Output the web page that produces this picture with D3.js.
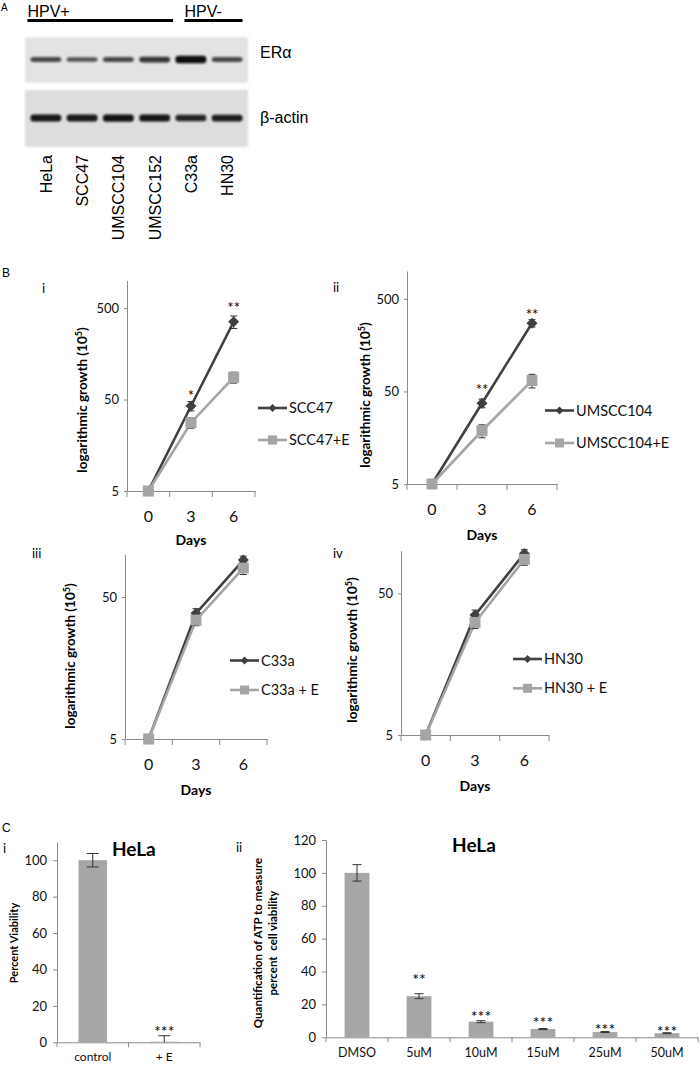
<!DOCTYPE html>
<html><head><meta charset="utf-8">
<script src="https://cdnjs.cloudflare.com/ajax/libs/d3/7.8.5/d3.min.js"></script>
<style>body{margin:0;background:#fff}svg{display:block}</style>
</head><body>
<script>
// ---------- DATA ----------
const lanes = ["HeLa","SCC47","UMSCC104","UMSCC152","C33a","HN30"];
const groups = [{label:"HPV+", from:"HeLa", to:"UMSCC152"},{label:"HPV-", from:"C33a", to:"HN30"}];
const eraBand = [0.5, 0.4, 0.5, 0.65, 1.0, 0.5];
const actinBand = [0.9, 0.88, 0.95, 0.92, 0.8, 0.85];

const days = ["0","3","6"];
const scc47 = [5, 42.5, 354], scc47Err = [0.3, 5, 55];
const scc47E = [5, 27.9, 87.5], scc47EErr = [0.3, 3.6, 12];
const starsI = ["", "*", "**"], starLevelI = [null, 59, 540];

const umscc104 = [5, 37.3, 273], umscc104Err = [0.3, 4, 25];
const umscc104E = [5, 18.8, 65.5], umscc104EErr = [0.3, 3, 11];
const starsII = ["", "**", "**"], starLevelII = [null, 56, 361];

const c33a = [5, 38.4, 91], c33aErr = [0.3, 3, 6];
const c33aE = [5, 34.4, 80], c33aEErr = [0.3, 3, 8];

const hn30 = [5, 35.1, 95.7], hn30Err = [0.3, 3, 6];
const hn30E = [5, 31.2, 86.9], hn30EErr = [0.3, 3, 8];

const viabCats = ["control", "+ E"];
const viabVals = [100, 0.3], viabErr = [3.7, 3.3];
const viabStars = ["", "***"], viabStarLevel = [null, 7.9];

const doseCats = ["DMSO","5uM","10uM","15uM","25uM","50uM"];
const doseVals = [100, 25, 9.5, 5, 3.2, 2.5];
const doseErr = [5, 1.5, 0.6, 0.3, 0.3, 0.3];
const doseStars = ["", "**", "***", "***", "***", "***"];
const doseStarLevel = [null, 37.3, 14.6, 10.9, 6.9, 5.5];

// ---------- STYLE ----------
const ARIAL = "'Liberation Sans', Arial, sans-serif";
const CAL = "Lato, 'Open Sans', sans-serif";
const dark = "#404040", light = "#a5a5a5", axisCol = "#8a8a8a", errCol = "#333";

const svg = d3.select("body").append("svg").attr("width",700).attr("height",1065);
svg.append("rect").attr("width",700).attr("height",1065).attr("fill","#fff");
const defs = svg.append("defs");
defs.append("filter").attr("id","blur").attr("x","-30%").attr("y","-100%").attr("width","160%").attr("height","300%")
  .append("feGaussianBlur").attr("stdDeviation",1.1);
defs.append("filter").attr("id","soft").attr("x","-5%").attr("y","-5%").attr("width","110%").attr("height","110%")
  .append("feGaussianBlur").attr("stdDeviation",0.8);

function txt(g, x, y, s, o = {}) {
  return g.append("text").attr("x", x).attr("y", y).text(s)
    .attr("font-family", o.family || CAL).attr("font-size", o.size || 13)
    .attr("font-weight", o.weight || "normal").attr("text-anchor", o.anchor || "start")
    .attr("fill", o.fill || "#000");
}

// ---------- PANEL A ----------
const A = svg.append("g");
txt(A, 1, 11, "A", {family: ARIAL, size: 10});
const lx = d3.scaleBand().domain(lanes).range([25, 248]).paddingInner(0.15).paddingOuter(0.15);
groups.forEach((gr, gi) => {
  const xs = gi === 0 ? lx(gr.from) - 3 : lx(gr.from) + 9;
  const xe = gi === 0 ? lx(gr.to) + lx.bandwidth() + 3 : lx(gr.to) + lx.bandwidth();
  txt(A, xs, 17, gr.label, {family: ARIAL, size: 16});
  A.append("line").attr("x1", xs).attr("x2", xe).attr("y1", 20.5).attr("y2", 20.5)
    .attr("stroke", "#000").attr("stroke-width", 3);
});
function blot(y0, y1, vals, cy, fill, label, labelY) {
  A.append("rect").attr("x", 25).attr("y", y0).attr("width", 223).attr("height", y1 - y0)
    .attr("fill", fill).attr("filter", "url(#soft)");
  A.selectAll(null).data(vals).join("rect")
    .attr("x", (d, i) => lx(lanes[i]))
    .attr("width", lx.bandwidth())
    .attr("y", d => cy - (2.5 + 5 * d) / 2)
    .attr("height", d => 2.5 + 5 * d)
    .attr("rx", 3)
    .attr("fill", "#0d0d0d").attr("opacity", d => 0.45 + 0.55 * d)
    .attr("filter", "url(#blur)");
  txt(A, 260, labelY, label, {family: ARIAL, size: 16});
}
blot(37, 83, eraBand, 59.5, "#e3e3e3", "ERα", 58);
blot(90, 147, actinBand, 118, "#dddddd", "β-actin", 123);
lanes.forEach(l => {
  A.append("text").attr("transform", `translate(${lx(l) + lx.bandwidth() / 2 + 6},155) rotate(-90)`)
    .attr("text-anchor", "end").attr("font-family", ARIAL).attr("font-size", 16).text(l);
});

// ---------- PANEL B ----------
const B = svg.append("g");
txt(B, 2, 277, "B", {family: ARIAL, size: 12});
txt(B, 42, 293, "i", {size: 13});
txt(B, 333, 292, "ii", {size: 13});
txt(B, 32, 558, "iii", {size: 13});
txt(B, 333, 558, "iv", {size: 13});

function diamond(r) { return `M0,${-r}L${r},0L0,${r}L${-r},0Z`; }

function lineChart(c) {
  const g = svg.append("g");
  const x = d3.scaleBand().domain(days).range([c.x0, c.x1]);
  const y = d3.scaleLog().domain(c.domain).range([c.yb, c.yt]);
  const ya = g.append("g").attr("transform", `translate(${c.x0},0)`)
    .call(d3.axisLeft(y).tickValues(c.ticks).tickFormat(d3.format("d")).tickSize(3).tickPadding(5).tickSizeOuter(0));
  ya.select(".domain").attr("stroke", axisCol);
  ya.selectAll(".tick line").attr("stroke", axisCol);
  ya.selectAll(".tick text").attr("font-family", CAL).attr("font-size", 13).attr("fill", "#111");
  const xa = g.append("g").attr("transform", `translate(0,${c.yb})`)
    .call(d3.axisBottom(x).tickSize(0).tickPadding(19.5).tickSizeOuter(0));
  xa.select(".domain").attr("stroke", axisCol);
  xa.selectAll(".tick text").attr("font-family", CAL).attr("font-size", 16).attr("fill", "#111");
  g.selectAll(null).data(d3.range(days.length + 1)).join("line")
    .attr("x1", i => c.x0 + i * x.step()).attr("x2", i => c.x0 + i * x.step())
    .attr("y1", c.yb).attr("y2", c.yb + 6).attr("stroke", axisCol);
  const cx = d => x(d) + x.bandwidth() / 2;

  function series(vals, errs, col, kind) {
    const pts = vals.map((v, i) => [cx(days[i]), y(v)]);
    g.append("path").attr("d", d3.line()(pts)).attr("fill", "none").attr("stroke", col).attr("stroke-width", 2.6);
    vals.forEach((v, i) => {
      if (!errs[i]) return;
      const lo = y(Math.max(v - errs[i], c.domain[0])), hi = y(v + errs[i]), X = cx(days[i]);
      g.append("line").attr("x1", X).attr("x2", X).attr("y1", lo).attr("y2", hi).attr("stroke", errCol);
      [lo, hi].forEach(yy => g.append("line").attr("x1", X - 3.5).attr("x2", X + 3.5).attr("y1", yy).attr("y2", yy).attr("stroke", errCol));
    });
    pts.forEach(p => {
      if (kind === "d") g.append("path").attr("d", diamond(5.5)).attr("transform", `translate(${p[0]},${p[1]})`).attr("fill", col);
      else g.append("rect").attr("x", p[0] - 5.5).attr("y", p[1] - 5.5).attr("width", 11).attr("height", 11).attr("fill", col);
    });
  }
  series(c.s1, c.e1, dark, "d");
  series(c.s2, c.e2, light, "s");

  if (c.stars) c.stars.forEach((s, i) => {
    if (!s) return;
    txt(g, cx(days[i]), y(c.starLevel[i]), s, {size: 15, anchor: "middle", fill: "#000"}).attr("dy", "0.55em");
  });

  // legend
  [[c.names[0], dark, "d"], [c.names[1], light, "s"]].forEach((e, i) => {
    const ly = c.leg.y + i * c.leg.dy;
    g.append("line").attr("x1", c.leg.x).attr("x2", c.leg.x + 29).attr("y1", ly).attr("y2", ly)
      .attr("stroke", e[1]).attr("stroke-width", 2.6);
    if (e[2] === "d") g.append("path").attr("d", diamond(4)).attr("transform", `translate(${c.leg.x + 14.5},${ly})`).attr("fill", e[1]);
    else g.append("rect").attr("x", c.leg.x + 10).attr("y", ly - 4.5).attr("width", 9).attr("height", 9).attr("fill", e[1]);
    txt(g, c.leg.x + 31, ly + 5, e[0], {size: 14.5, fill: "#111"});
  });

  // titles
  const t = g.append("text").attr("transform", `translate(${c.tx},${c.ty}) rotate(-90)`)
    .attr("text-anchor", "middle").attr("font-family", CAL).attr("font-size", 13.5).attr("font-weight", "bold");
  t.append("tspan").text("logarithmic growth (10");
  t.append("tspan").text("5").attr("font-size", 9).attr("dy", -5);
  t.append("tspan").text(")").attr("dy", 5);
  txt(g, (c.x0 + c.x1) / 2, c.daysY, "Days", {size: 14, weight: "bold", anchor: "middle"});
}

lineChart({x0: 127, x1: 255, yb: 491, yt: 280.5, domain: [5, 1000], ticks: [5, 50, 500],
  s1: scc47, e1: scc47Err, s2: scc47E, e2: scc47EErr, names: ["SCC47", "SCC47+E"],
  stars: starsI, starLevel: starLevelI, leg: {x: 258, y: 408, dy: 32}, tx: 87, ty: 400, daysY: 545});
lineChart({x0: 407, x1: 557, yb: 484, yt: 271, domain: [5, 1000], ticks: [5, 50, 500],
  s1: umscc104, e1: umscc104Err, s2: umscc104E, e2: umscc104EErr, names: ["UMSCC104", "UMSCC104+E"],
  stars: starsII, starLevel: starLevelII, leg: {x: 545, y: 410.5, dy: 32.5}, tx: 370, ty: 395, daysY: 540});
lineChart({x0: 125, x1: 267, yb: 739, yt: 554.3, domain: [5, 100], ticks: [5, 50],
  s1: c33a, e1: c33aErr, s2: c33aE, e2: c33aEErr, names: ["C33a", "C33a + E"],
  leg: {x: 230, y: 660.5, dy: 29.5}, tx: 75, ty: 656, daysY: 795});
lineChart({x0: 401, x1: 549, yb: 735, yt: 550.7, domain: [5, 100], ticks: [5, 50],
  s1: hn30, e1: hn30Err, s2: hn30E, e2: hn30EErr, names: ["HN30", "HN30 + E"],
  leg: {x: 513, y: 659, dy: 29.3}, tx: 357, ty: 650, daysY: 791});

// ---------- PANEL C ----------
const C = svg.append("g");
txt(C, 2, 832, "C", {family: ARIAL, size: 12});
txt(C, 3, 853, "i", {size: 13});
txt(C, 236, 852, "ii", {size: 13});

function barChart(c) {
  const g = svg.append("g");
  const x = d3.scaleBand().domain(c.cats).range([c.x0, c.x1]).paddingInner(0.6).paddingOuter(0.3);
  const y = d3.scaleLinear().domain(c.domain).range([c.yb, c.yt]);
  const ya = g.append("g").attr("transform", `translate(${c.x0},0)`)
    .call(d3.axisLeft(y).tickValues(c.ticks).tickSize(4).tickPadding(6).tickSizeOuter(0));
  ya.select(".domain").attr("stroke", axisCol);
  ya.selectAll(".tick line").attr("stroke", axisCol);
  ya.selectAll(".tick text").attr("font-family", CAL).attr("font-size", 13).attr("fill", "#111");
  const xa = g.append("g").attr("transform", `translate(0,${c.yb})`)
    .call(d3.axisBottom(x).tickSize(0).tickPadding(c.labPad).tickSizeOuter(0));
  xa.select(".domain").attr("stroke", axisCol);
  xa.selectAll(".tick text").attr("font-family", CAL).attr("font-size", c.labSize).attr("fill", "#111");
  const step = (c.x1 - c.x0) / c.cats.length;
  g.selectAll(null).data(d3.range(c.cats.length + 1)).join("line")
    .attr("x1", i => c.x0 + i * step).attr("x2", i => c.x0 + i * step)
    .attr("y1", c.yb).attr("y2", c.yb + 5).attr("stroke", axisCol);
  g.selectAll(null).data(c.vals).join("rect")
    .attr("x", (d, i) => x(c.cats[i])).attr("width", x.bandwidth())
    .attr("y", d => y(d)).attr("height", d => c.yb - y(d)).attr("fill", "#a6a6a6");
  c.vals.forEach((v, i) => {
    const X = x(c.cats[i]) + x.bandwidth() / 2;
    const hi = y(v + c.errs[i]), lo = Math.min(y(v - c.errs[i]), c.yb);
    g.append("line").attr("x1", X).attr("x2", X).attr("y1", lo).attr("y2", hi).attr("stroke", errCol);
    g.append("line").attr("x1", X - c.cap).attr("x2", X + c.cap).attr("y1", hi).attr("y2", hi).attr("stroke", errCol);
    if (y(v - c.errs[i]) < c.yb)
      g.append("line").attr("x1", X - c.cap).attr("x2", X + c.cap).attr("y1", lo).attr("y2", lo).attr("stroke", errCol);
    if (c.stars[i]) txt(g, X, y(c.starLevel[i]), c.stars[i], {size: 16, anchor: "middle", fill: "#000"}).attr("dy", "0.55em");
  });
  txt(g, c.titleX, c.titleY, "HeLa", {size: 19, weight: "bold", anchor: c.titleAnchor});
  const t = g.append("text").attr("transform", `translate(${c.ytx},${c.yty}) rotate(-90)`)
    .attr("text-anchor", "middle").attr("font-family", CAL).attr("font-size", c.ytSize).attr("font-weight", "bold");
  c.ytLines.forEach((l, i) => t.append("tspan").attr("x", 0).attr("y", i * c.ytGap).text(l));
}

barChart({cats: viabCats, vals: viabVals, errs: viabErr, stars: viabStars, starLevel: viabStarLevel,
  x0: 57, x1: 200, yb: 1042.3, yt: 842, domain: [0, 110], ticks: [0, 20, 40, 60, 80, 100],
  labPad: 10, labSize: 12, cap: 6,
  titleX: 112, titleY: 856, titleAnchor: "start",
  ytx: 18, yty: 943, ytSize: 11, ytGap: 0, ytLines: ["Percent Viability"]});
barChart({cats: doseCats, vals: doseVals, errs: doseErr, stars: doseStars, starLevel: doseStarLevel,
  x0: 326, x1: 698, yb: 1037.3, yt: 840, domain: [0, 120], ticks: [0, 20, 40, 60, 80, 100, 120],
  labPad: 11, labSize: 12.5, cap: 4.5,
  titleX: 474, titleY: 852, titleAnchor: "middle",
  ytx: 262, yty: 943, ytSize: 11.5, ytGap: 15, ytLines: ["Quantification of ATP to measure", "percent\u00a0 cell viability"]});
</script>
</body></html>
